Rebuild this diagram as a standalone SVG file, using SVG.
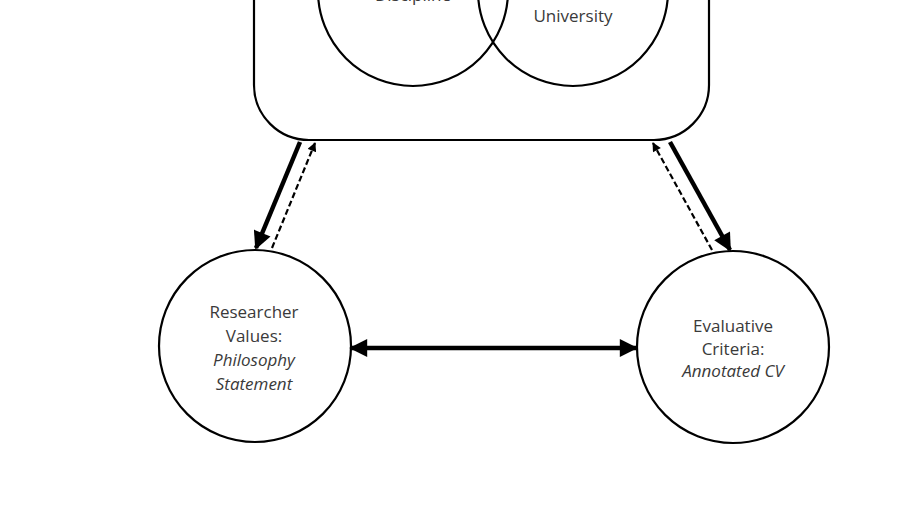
<svg xmlns="http://www.w3.org/2000/svg" width="918" height="517" viewBox="0 0 918 517">
<style>
.shape{fill:none;stroke:#000;stroke-width:2.2}
.lbl{font-family:"Open Sans","Liberation Sans",sans-serif;font-size:17px;fill:#3a3a3a;text-anchor:middle}
.it{font-style:italic}
.solid{stroke:#000;stroke-width:4.5;fill:none}
.dash{stroke:#000;stroke-width:2.2;fill:none;stroke-dasharray:6 3}
</style>
<defs>
<marker id="big" viewBox="0 0 10 10" refX="9" refY="5" markerWidth="20" markerHeight="18" markerUnits="userSpaceOnUse" orient="auto-start-reverse">
<path d="M0,0 L10,5 L0,10 z" fill="#000"/>
</marker>
<marker id="small" viewBox="0 0 10 10" refX="9" refY="5" markerWidth="10" markerHeight="9" markerUnits="userSpaceOnUse" orient="auto">
<path d="M0,0 L10,5 L0,10 z" fill="#000"/>
</marker>
</defs>
<rect width="918" height="517" fill="#fff"/>
<g id="context">
<rect class="shape" x="254" y="-120" width="455" height="260" rx="55" ry="55"/>
</g>
<g id="discipline">
<circle class="shape" cx="413" cy="-9" r="95"/>
<text class="lbl" x="413" y="1">Discipline</text>
</g>
<g id="university">
<circle class="shape" cx="573" cy="-9" r="95"/>
<text class="lbl" x="573" y="22">University</text>
</g>
<g id="researcher-values">
<circle class="shape" cx="255" cy="346" r="96"/>
<text class="lbl" x="254" y="318">Researcher</text>
<text class="lbl" x="254" y="342">Values:</text>
<text class="lbl it" x="254" y="366">Philosophy</text>
<text class="lbl it" x="254" y="390">Statement</text>
</g>
<g id="evaluative-criteria">
<circle class="shape" cx="733" cy="347" r="96"/>
<text class="lbl" x="733" y="332">Evaluative</text>
<text class="lbl" x="733" y="355">Criteria:</text>
<text class="lbl it" x="733" y="377">Annotated CV</text>
</g>
<g id="connectors">
<line class="solid" x1="300" y1="142" x2="256" y2="248" marker-end="url(#big)"/>
<line class="dash" x1="272" y1="248" x2="315" y2="143" marker-end="url(#small)"/>
<line class="solid" x1="670" y1="142" x2="730" y2="250" marker-end="url(#big)"/>
<line class="dash" x1="712" y1="250" x2="653" y2="143" marker-end="url(#small)"/>
<line class="solid" x1="351" y1="348" x2="636" y2="348" marker-start="url(#big)" marker-end="url(#big)"/>
</g>
</svg>
